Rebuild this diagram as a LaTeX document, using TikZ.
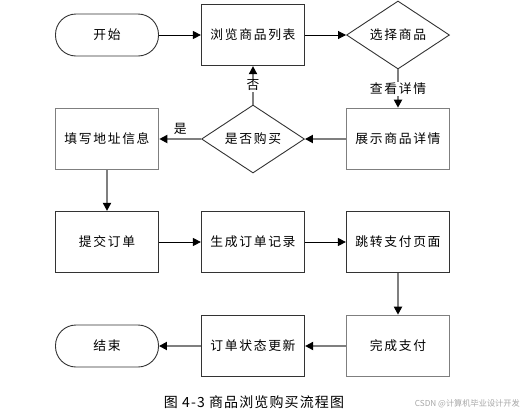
\documentclass[tikz,border=0pt]{standalone}
\usepackage{fontspec}
\setmainfont{Noto Sans CJK SC}
\newfontfamily\cjksp{Noto Sans CJK SC}[LetterSpace=13]
\newfontfamily\cjkcap{Noto Sans CJK SC}[LetterSpace=8]
\usetikzlibrary{shapes.geometric,arrows.meta}
\definecolor{lgray}{HTML}{7F7F7F}
\definecolor{dgray}{HTML}{333333}
\begin{document}
\begin{tikzpicture}[x=1pt,y=-1pt,
  every node/.style={font=\cjksp\fontsize{12.8}{14}\selectfont, inner sep=0pt},
  box/.style={draw=dgray, line width=1.2pt, minimum width=103pt, minimum height=61pt},
  gbox/.style={box, draw=lgray, line width=1.6pt},
  term/.style={draw=dgray, line width=0.9pt, rounded corners=20.5pt, minimum width=103pt, minimum height=42pt},
  dia/.style={diamond, draw=dgray, line width=0.9pt, minimum width=103pt, minimum height=61pt},
  blk/.style={draw=black, line width=0.9pt, -{Triangle[length=8pt,width=8pt,black]}},
  gry/.style={draw=lgray, line width=1.8pt, -{Triangle[length=8pt,width=8pt,black]}},
  lbl/.style={fill=white, inner sep=1pt}]
\useasboundingbox (0,0) rectangle (523,416);
\node[term] (start) at (107,35) {开始};
\node[box] (browse) at (253,35) {浏览商品列表};
\node[dia] (select) at (398,35) {选择商品};
\node[gbox] (detail) at (398,139) {展示商品详情};
\node[dia] (buy) at (253,139) {是否购买};
\node[gbox] (addr) at (107,139) {填写地址信息};
\node[box] (submit) at (107,242) {提交订单};
\node[box] (gen) at (253,242) {生成订单记录};
\node[box] (jump) at (398,242) {跳转支付页面};
\node[gbox] (pay) at (398,346) {完成支付};
\node[box] (upd) at (253,346) {订单状态更新};
\node[term] (end) at (107,346) {结束};
\draw[blk] (start) -- (browse);
\draw[blk] (browse) -- (select);
\draw[gry] (select) -- node[lbl] {查看详情} (detail);
\draw[gry] (detail) -- (buy);
\draw[gry] (buy) -- node[lbl] {否} (browse);
\draw[gry] (buy) -- node[above=4pt] {是} (addr);
\draw[gry] (addr) -- (submit);
\draw[blk] (submit) -- (gen);
\draw[blk] (gen) -- (jump);
\draw[gry] (jump) -- (pay);
\draw[gry] (pay) -- (upd);
\draw[gry] (upd) -- (end);
\node[font=\cjkcap\fontsize{14}{16}\selectfont] (cap) at (254,402) {图 4-3 商品浏览购买流程图};
\node[font=\fontsize{8.2}{10}\selectfont, text=black!35, anchor=east] (wm) at (520,404) {CSDN @计算机毕业设计开发};
\end{tikzpicture}
\end{document}
